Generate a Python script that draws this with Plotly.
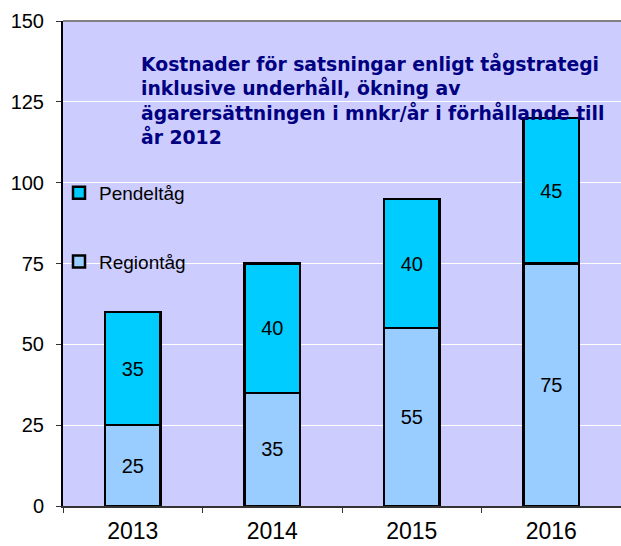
import plotly.graph_objects as go

years = ["2013", "2014", "2015", "2016"]
regiontag = [25, 35, 55, 75]
pendeltag = [35, 40, 40, 45]
y_ticks = [0, 25, 50, 75, 100, 125, 150]
title_text = ("Kostnader för satsningar enligt tågstrategi<br>"
              "inklusive underhåll, ökning av<br>"
              "ägarersättningen i mnkr/år i förhållande till<br>"
              "år 2012")

FONT = "Liberation Sans, Arial, sans-serif"

fig = go.Figure()
fig.add_trace(go.Bar(
    x=years, y=regiontag, name="Regiontåg",
    marker=dict(color="#99CCFF", line=dict(color="black", width=2.5)),
    text=regiontag, textposition="inside", insidetextanchor="middle",
    textfont=dict(family=FONT, size=20, color="black"),
    legendgroup="r", legendrank=2, width=0.4,
))
fig.add_trace(go.Bar(
    x=years, y=pendeltag, name="Pendeltåg",
    marker=dict(color="#00CCFF", line=dict(color="black", width=2.5)),
    text=pendeltag, textposition="inside", insidetextanchor="middle",
    textfont=dict(family=FONT, size=20, color="black"),
    legendgroup="p", legendrank=1, width=0.4,
))

fig.update_layout(
    width=621, height=546,
    margin=dict(l=63, r=0, t=21, b=40, autoexpand=False),
    barmode="stack",
    plot_bgcolor="#CCCCFF",
    paper_bgcolor="white",
    font=dict(family=FONT, color="black"),
    showlegend=True,
    legend=dict(
        x=(59 - 63) / 558, xanchor="left",
        y=(506 - 174) / 485, yanchor="top",
        traceorder="grouped",
        tracegroupgap=41,
        bgcolor="rgba(0,0,0,0)",
        font=dict(family=FONT, size=19, color="black"),
        itemwidth=30,
    ),
    annotations=[dict(
        text=title_text, xref="paper", yref="paper",
        x=(139 - 63) / 558, y=(506 - 50) / 485,
        xanchor="left", yanchor="top", align="left", showarrow=False,
        font=dict(family="DejaVu Sans, " + FONT, size=18.8, color="#000080", weight="bold"),
    )],
)
fig.update_xaxes(
    type="category", tickson="boundaries",
    ticks="outside", ticklen=5, tickcolor="#333333",
    showline=True, linecolor="#333333", linewidth=1.5,
    tickfont=dict(family=FONT, size=23, color="black"),
    ticklabelstandoff=4, automargin=False,
    showgrid=False,
)
fig.update_yaxes(
    range=[0, 150], tickvals=y_ticks,
    ticks="outside", ticklen=5, tickcolor="#333333",
    showline=True, linecolor="black", linewidth=2,
    tickfont=dict(family=FONT, size=20, color="black"),
    ticklabelstandoff=8, automargin=False,
    showgrid=True, gridcolor="white", gridwidth=1,
    zeroline=False,
)
# top border of plot area
fig.add_shape(type="line", xref="paper", yref="paper", x0=0, x1=1, y0=1, y1=1,
              line=dict(color="#808080", width=2))

fig.write_html(
    "out.html",
    config={"displayModeBar": False},
    post_script="document.body.style.margin='0';document.body.style.overflow='hidden';",
)
